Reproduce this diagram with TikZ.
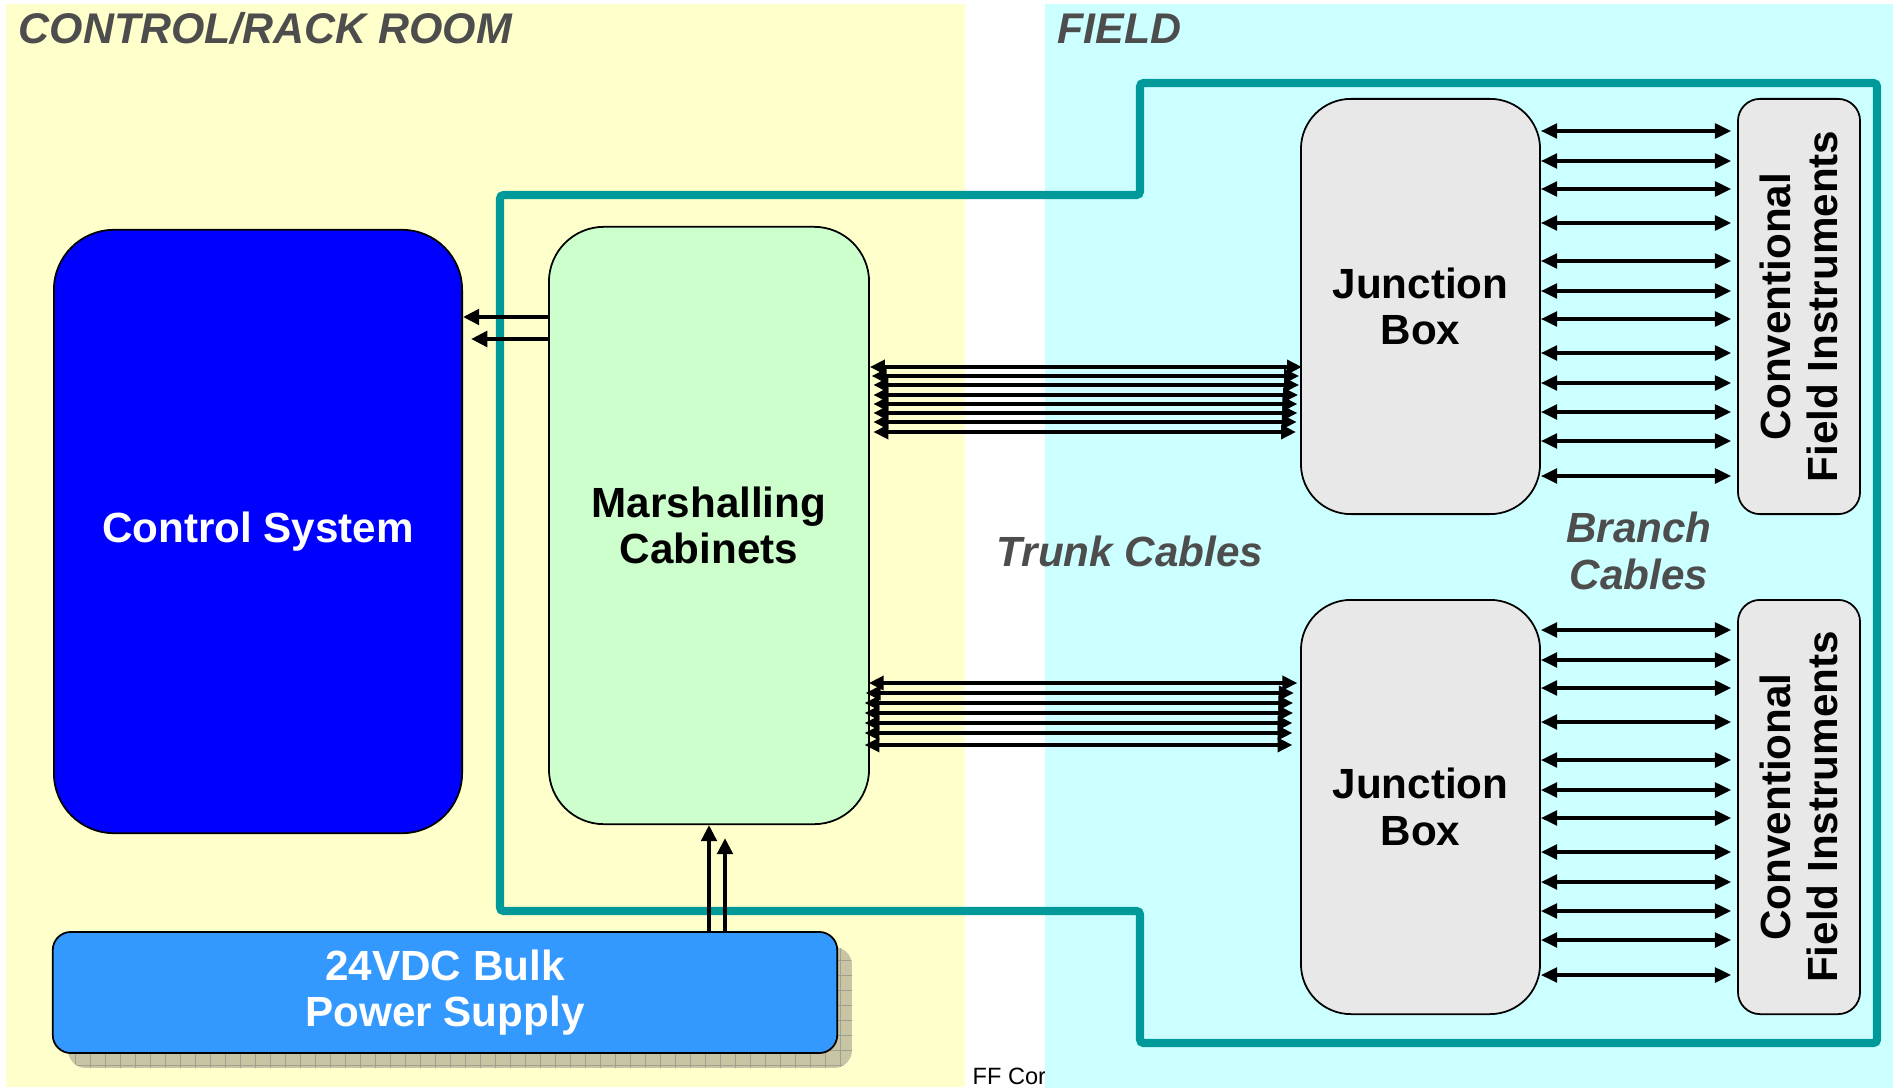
\documentclass[tikz,border=0pt]{standalone}
\usepackage{fontspec}
\setmainfont{Liberation Sans}
\usetikzlibrary{arrows.meta}

\definecolor{roomyellow}{HTML}{FFFFCC}
\definecolor{fieldcyan}{HTML}{CCFFFF}
\definecolor{ringteal}{HTML}{009999}
\definecolor{ctrlblue}{HTML}{0000FF}
\definecolor{psublue}{HTML}{3399FF}
\definecolor{marshgreen}{HTML}{CCFFCC}
\definecolor{jbgray}{HTML}{E8E8E8}
\definecolor{labelgray}{HTML}{4D4D4D}
\definecolor{shadowkhaki}{RGB}{200,197,165}
\definecolor{shadowgrid}{RGB}{160,160,145}

\begin{document}
\begin{tikzpicture}[x=0.01cm,y=-0.01cm,
    box/.style={draw=black,line width=0.5pt,rounded corners=#1,align=center,inner sep=0pt,
        font=\fontsize{12}{13.2}\selectfont\bfseries},
    header/.style={anchor=base west,text=labelgray,inner sep=0pt,
        font=\fontsize{12.2}{15}\selectfont\bfseries\itshape},
    cablelabel/.style={text=labelgray,align=center,inner sep=0pt,
        font=\fontsize{12}{13.2}\selectfont\bfseries\itshape},
    ring/.style={draw=ringteal,line width=2.3pt,rounded corners=1pt},
    feed/.style={line width=1.1pt,-{Triangle[length=4.6pt,width=4.4pt]}},
    trunk/.style={line width=0.9pt,{Triangle[length=4.2pt,width=4pt]}-{Triangle[length=4.2pt,width=4pt]}},
    branch/.style={line width=0.95pt,{Triangle[length=4.6pt,width=4.2pt]}-{Triangle[length=4.6pt,width=4.2pt]}}]

    \useasboundingbox (0,0) rectangle (1897,1088);

    % room backgrounds
    \fill[roomyellow] (6,4) rectangle (965,1087);
    \node[anchor=base west,inner sep=0pt,font=\fontsize{6.7}{8}\selectfont] (footer) at (972,1084) {FF Cor};
    \fill[fieldcyan] (1045,4) rectangle (1893,1088);

    \node[header] (roomlabel) at (18,44) {CONTROL/RACK ROOM};
    \node[header] (fieldlabel) at (1057,44) {FIELD};

    % teal cable route
    \draw[ring] (500,195) -- (1140,195) -- (1140,83) -- (1877,83) -- (1877,1043)
        -- (1140,1043) -- (1140,911) -- (500,911) -- cycle;

    % shadow under the power supply
    \begin{scope}
        \clip[rounded corners=0.18cm] (68,947) rectangle (852,1068);
        \fill[shadowkhaki] (68,947) rectangle (852,1068);
        \draw[shadowgrid,line width=0.3pt,xstep=0.15cm,ystep=0.15cm] (60,940) grid (860,1075);
    \end{scope}

    % boxes
    \node[box=0.6cm,fill=ctrlblue,text=white,minimum width=4.08cm,minimum height=6.03cm] (ctrl) at (258,531.5) {Control System};
    \node[box=0.55cm,fill=marshgreen,minimum width=3.2cm,minimum height=5.97cm] (marsh) at (709,525.5) {Marshalling\\Cabinets};
    \node[box=0.18cm,fill=psublue,text=white,minimum width=7.84cm,minimum height=1.21cm] (psu) at (445,992.5) {24VDC Bulk\\Power Supply};

    \node[box=0.5cm,fill=jbgray,minimum width=2.39cm,minimum height=4.15cm] (jbA) at (1420.5,306.5) {Junction\\Box};
    \node[box=0.5cm,fill=jbgray,minimum width=2.39cm,minimum height=4.14cm] (jbB) at (1420.5,807) {Junction\\Box};
    \node[box=0.22cm,fill=jbgray,rotate=90,minimum width=4.15cm,minimum height=1.22cm] (cfiA) at (1799,306.5) {Conventional\\Field Instruments};
    \node[box=0.22cm,fill=jbgray,rotate=90,minimum width=4.14cm,minimum height=1.22cm] (cfiB) at (1799,807) {Conventional\\Field Instruments};

    \node[cablelabel] (trunklabel) at (1130,551) {Trunk Cables};
    \node[cablelabel] (branchlabel) at (1639,551) {Branch\\Cables};

    % marshalling to control system
    \draw[feed] (marsh.west |- 0,317) -- (ctrl.east |- 0,317);
    \draw[feed,shorten >=2.3pt] (marsh.west |- 0,339) -- (ctrl.east |- 0,339);

    % power feed
    \draw[feed] (psu.north -| 709,0) -- (marsh.south -| 709,0);
    \draw[feed,shorten >=3.7pt] (psu.north -| 725,0) -- (marsh.south -| 725,0);

    % trunk cables
    \foreach \y/\l/\r in {367/0/-0.5,376/0.5/0.3,385/1/0.3,395/1/0.6,404/1/0.8,413/1/0.8,422/1/1,432/1/1.2}
        \draw[trunk,shorten <=\l pt,shorten >=\r pt] (marsh.east |- 0,\y) -- (jbA.west |- 0,\y);
    \foreach \y/\l/\r in {683/-0.3/0.8,693/-1.2/1.8,703/-1.5/2,713/-1.5/2,723/-1.5/2.2,733/-1.5/2.2,745/-1.5/2.2}
        \draw[trunk,shorten <=\l pt,shorten >=\r pt] (marsh.east |- 0,\y) -- (jbB.west |- 0,\y);

    % branch cables
    \foreach \y in {131,161,189,223,261,291,319,353,383,412,441,476} {
        \draw[branch,shorten >=1.7pt] (jbA.east |- 0,\y) -- (cfiA.north |- 0,\y);
        \draw[branch,shorten >=1.7pt] (jbB.east |- 0,\y+499) -- (cfiB.north |- 0,\y+499);
    }
\end{tikzpicture}
\end{document}
